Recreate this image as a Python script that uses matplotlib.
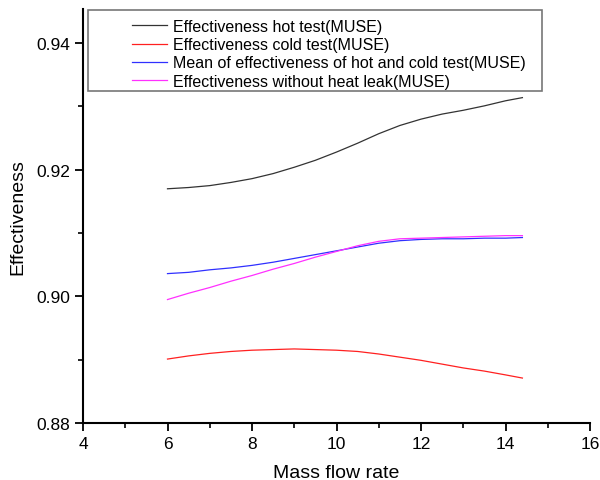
import matplotlib
matplotlib.use("Agg")
import matplotlib.pyplot as plt
from matplotlib.patches import Rectangle
from matplotlib.ticker import MultipleLocator, FormatStrFormatter

plt.rcParams['font.family'] = ['Liberation Sans', 'DejaVu Sans']

# mass flow rate
flow = [6, 6.5, 7, 7.5, 8, 8.5, 9, 9.5, 10, 10.5, 11, 11.5, 12, 12.5, 13, 13.5, 14, 14.4]

hot = [0.9170, 0.9172, 0.9175, 0.9180, 0.9186, 0.9194, 0.9204, 0.9215, 0.9228,
       0.9242, 0.9257, 0.9270, 0.9280, 0.9288, 0.9294, 0.9301, 0.9309, 0.9314]
cold = [0.8901, 0.8906, 0.8910, 0.8913, 0.8915, 0.8916, 0.8917, 0.8916, 0.8915,
        0.8913, 0.8909, 0.8904, 0.8899, 0.8893, 0.8887, 0.8882, 0.8876, 0.8871]
mean = [0.9036, 0.9038, 0.9042, 0.9045, 0.9049, 0.9054, 0.9060, 0.9066, 0.9072,
        0.9078, 0.9084, 0.9088, 0.9090, 0.9091, 0.9091, 0.9092, 0.9092, 0.9093]
no_leak = [0.8995, 0.9005, 0.9014, 0.9024, 0.9033, 0.9043, 0.9052, 0.9062, 0.9071,
           0.9080, 0.9087, 0.9091, 0.9092, 0.9093, 0.9094, 0.9095, 0.9096, 0.9096]

labels = ["Effectiveness hot test(MUSE)",
          "Effectiveness cold test(MUSE)",
          "Mean of effectiveness of hot and cold test(MUSE)",
          "Effectiveness without heat leak(MUSE)"]
colors = ["#333333", "#ff2020", "#3030ff", "#ff30ff"]

fig = plt.figure(figsize=(6, 4.81), dpi=100)
ax = fig.add_axes([83/600, 1 - 424/481, 507/600, 414/481])

for ys, lab, c in zip([hot, cold, mean, no_leak], labels, colors):
    ax.plot(flow, ys, color=c, lw=0.9, label=lab)

ax.set_xlim(4, 16)
ax.set_ylim(0.88, 0.9454)
ax.xaxis.set_major_locator(MultipleLocator(2))
ax.xaxis.set_minor_locator(MultipleLocator(1))
ax.yaxis.set_major_locator(MultipleLocator(0.02))
ax.yaxis.set_minor_locator(MultipleLocator(0.01))
ax.yaxis.set_major_formatter(FormatStrFormatter('%.2f'))

for s in ['top', 'right']:
    ax.spines[s].set_visible(False)
for s in ['left', 'bottom']:
    ax.spines[s].set_linewidth(1.5)

ax.tick_params(which='major', direction='out', length=6, width=1.3, labelsize=12.5)
ax.tick_params(which='minor', direction='out', length=3.5, width=1.2)

ax.set_xlabel("Mass flow rate", fontsize=14, labelpad=9)
ax.set_ylabel("Effectiveness", fontsize=14, labelpad=7)

# legend box drawn by hand (Origin style, big left padding)
fig.patches.append(Rectangle((88/600, 1 - 92/481), (542-88)/600, (92-11)/481,
                             transform=fig.transFigure, fill=False,
                             edgecolor='#777777', lw=1.2, zorder=5))
leg = ax.legend(loc='upper left', bbox_to_anchor=(132/600, 1 - 20/481),
                bbox_transform=fig.transFigure, frameon=False, fontsize=11.5,
                borderpad=0, borderaxespad=0, handlelength=2.2,
                handletextpad=0.35, labelspacing=0.2)

fig.savefig("out.png", dpi=100)
